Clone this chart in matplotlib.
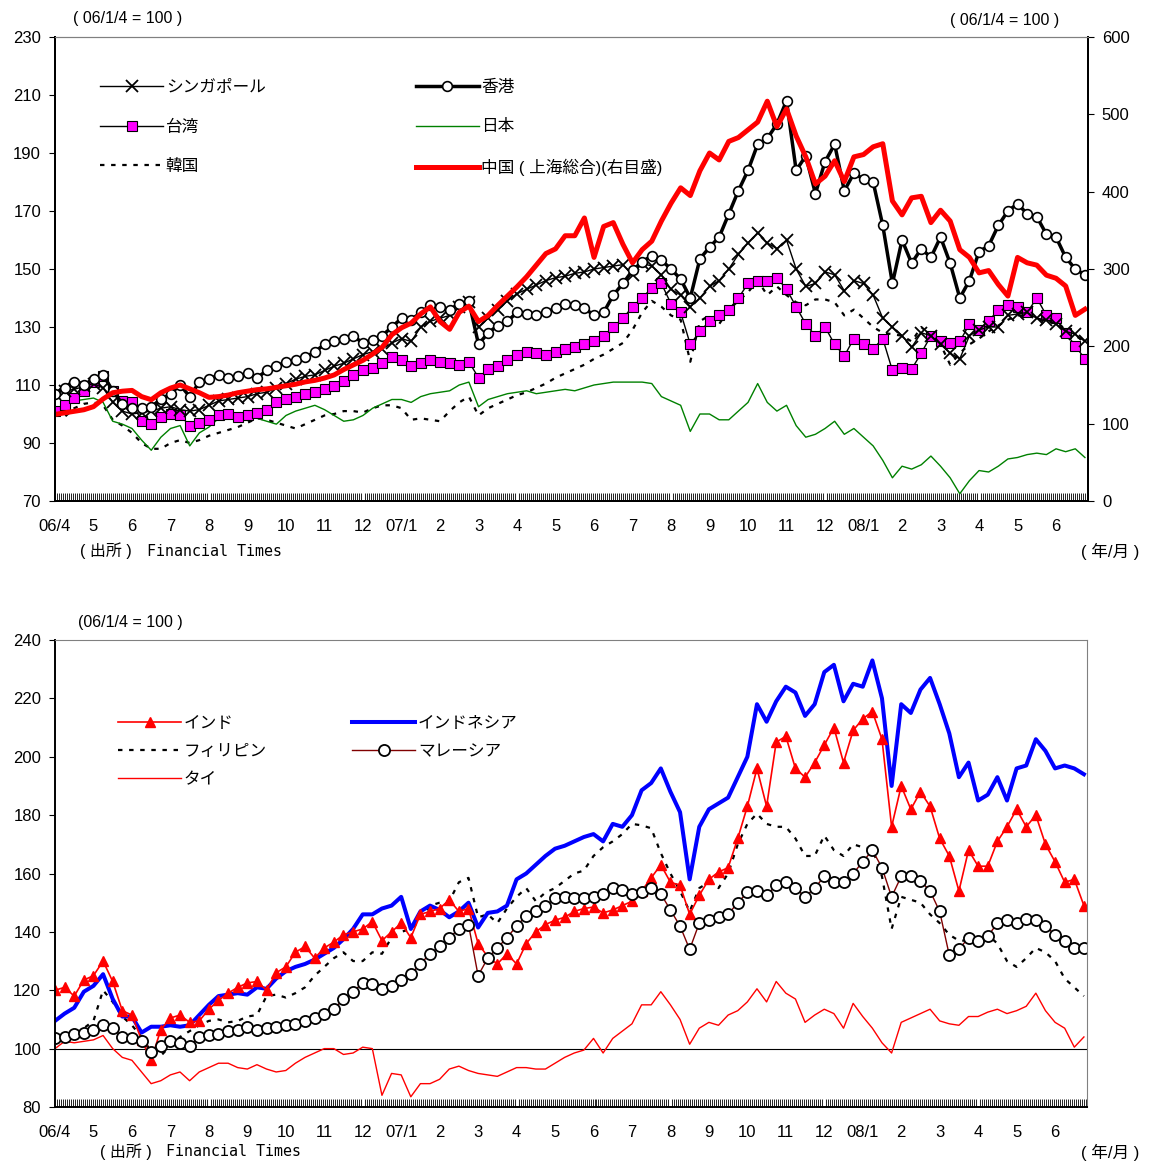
import numpy as np
import matplotlib.pyplot as plt

plt.rcParams['font.family'] = ['Liberation Sans', 'Noto Sans CJK JP']

month_labels = ['06/4', '5', '6', '7', '8', '9', '10', '11', '12', '07/1', '2', '3',
                '4', '5', '6', '7', '8', '9', '10', '11', '12', '08/1', '2', '3',
                '4', '5', '6']

# weekly readings (06/1/4 = 100), Apr 2006 - Jun 2008
singapore = [107, 108, 108.5, 109.5, 110.5, 109, 104, 101, 100, 100.5, 101, 102,
             102.5, 101.5, 101, 101.5, 103, 104.5, 105, 105.5, 106, 107, 107.5, 109,
             110.5, 112, 113, 113.5, 115, 116.5, 117.5, 119, 120.5, 121.5, 122.5, 124.5,
             126, 125, 130, 132, 133, 134, 137, 138.5, 130, 133, 136, 139,
             141.5, 143, 144.5, 146, 147, 147.5, 148.5, 149, 150, 150.5, 151, 151.5,
             148, 152, 151, 148, 143, 141, 137, 140, 144, 146, 150, 155,
             159, 162.5, 159, 157, 160, 150, 144, 145, 149, 148, 142.5, 146,
             145, 141, 133, 130, 127, 123, 128, 127, 124, 121, 119, 127,
             129, 130, 130, 134, 134.5, 135, 133, 132.5, 131, 128.5, 127.5, 125]
hongkong = [107, 109, 111, 110, 112, 113.5, 108, 103.5, 102, 102, 102.5, 105,
            107, 110, 106, 111, 112, 113.5, 112.5, 113, 114, 112.5, 115, 116.5,
            118, 118.5, 119.5, 121.5, 124, 125, 126, 126.8, 124.5, 125.5, 127, 130,
            133, 132.5, 135, 137.5, 137, 136, 138, 138.8, 124, 128, 130.5, 132,
            135, 134.5, 134, 135, 136.5, 138, 137.5, 136.5, 134, 135, 141, 145,
            149.5, 152.5, 154.5, 153, 150, 146.5, 140, 153.5, 157.5, 161, 169, 177,
            184, 193, 195, 200, 208, 184, 189, 176, 187, 193, 177, 183,
            181, 180, 165, 145, 160, 152, 157, 154, 161, 152, 140, 146,
            156, 158, 165, 170, 172.5, 169, 168, 162, 161, 154, 150, 148]
taiwan = [101, 103, 105.5, 108, 111, 113, 108, 104.5, 104, 97.5, 96.5, 99,
          100, 99.5, 96, 97, 98, 99.5, 100, 99, 99.5, 100.5, 101.5, 104,
          105, 106, 107, 107.5, 108.5, 109.5, 111.5, 113.5, 115, 116, 117.5, 119.5,
          118.5, 116.5, 117.5, 118.5, 118, 117.5, 117, 118, 112.5, 115.5, 116.5, 118.5,
          120.5, 121.5, 121, 120.5, 121.5, 122.5, 123, 124, 125, 127, 130, 133,
          137, 140, 143.5, 145, 138, 135, 124, 128.5, 132, 134, 136, 140,
          145, 146, 146, 147, 143, 137, 131, 127, 130, 124, 120, 126,
          124, 122.5, 126, 115, 116, 115.5, 121, 127, 125, 124.5, 125, 131,
          129, 132, 136, 137.5, 137, 135, 140, 134, 133, 128, 123.5, 119]
japan = [101, 103.5, 104.5, 105, 105.5, 104, 97.5, 96.5, 95, 91, 87.5, 92,
         95, 96, 89, 93.5, 95.5, 98.5, 100, 98.5, 99, 98.5, 97.5, 96.5,
         99.5, 101, 102, 103, 101.5, 99.5, 97.5, 98, 99.5, 102, 103.5, 105,
         105, 104, 106, 107, 107.5, 108, 110, 111, 102.5, 105, 106, 107,
         107.5, 108, 107, 107.5, 108, 108.5, 108, 109, 110, 110.5, 111, 111,
         111, 111, 110.5, 106, 104.5, 103, 94, 100, 100, 98, 98, 101,
         104, 110.5, 104, 101, 103, 96, 92, 93, 95, 97.5, 93, 95,
         92, 89, 84, 78, 82, 81, 82.5, 85.5, 82, 78, 72.5, 77,
         80.5, 80, 82, 84.5, 85, 86, 86.5, 86, 88, 87, 88, 85]
korea = [100, 99, 102, 103.5, 104, 103, 98, 96, 93.5, 90, 88, 88,
         90, 91, 90, 91, 92.5, 93.5, 94.5, 95.5, 97, 98.5, 98, 97,
         96, 95, 96.5, 98, 99.5, 100, 101, 101, 100.5, 102, 103, 103,
         102, 98, 98.5, 98, 97.5, 101, 104, 106, 99.5, 102, 103.5, 105,
         106.5, 107.5, 109, 110.5, 112.5, 114, 115.5, 117, 119, 120.5, 122.5, 124.5,
         129, 135, 139, 137, 134, 132.5, 118, 132, 134, 131, 136, 139,
         142, 146, 141, 144, 141, 138.5, 137.5, 139.5, 139.5, 138.5, 134, 136,
         133, 130, 128, 127.5, 127, 125, 130, 127, 124, 117, 121, 124,
         126, 128.5, 130.5, 132.5, 134, 134, 133, 131.5, 132, 129, 127, 125]
china = [112, 114, 116, 118, 122, 132, 140, 142, 143, 135, 131, 140,
         146, 150, 145, 140, 134, 135, 137, 140, 142, 144, 145, 147,
         149, 151, 154, 156, 159, 163, 170, 176, 182, 190, 199, 215,
         224, 230, 242, 251, 232, 222, 244, 252, 232, 240, 253, 265,
         277, 290, 305, 320, 326, 343, 343, 366, 315, 355, 360, 332,
         308, 325, 336, 362, 385, 405, 395, 427, 450, 441, 465, 470,
         480, 490, 517, 484, 507, 472, 445, 410, 420, 440, 413, 445,
         448, 458, 462, 388, 370, 392, 394, 360, 376, 362, 325, 315,
         295, 298, 280, 265, 315, 308, 305, 292, 288, 278, 240, 248]

india = [120, 121, 118, 123.5, 125, 130, 123, 113, 111.5, 103, 96, 106.5,
         110.5, 111.5, 109, 109.5, 113.5, 116.5, 119, 121, 122.5, 123, 120, 126,
         128, 133, 135, 131, 134.5, 136.5, 139, 140, 141, 143.5, 137, 140,
         143, 138, 146, 147, 148, 151, 147, 148, 136, 131.5, 129, 132.5,
         129, 136, 140, 142.5, 144, 145, 147, 148, 148.5, 146.5, 147.5, 149,
         150.5, 154, 158.5, 163, 157, 156, 146, 152.5, 158, 160.5, 162, 172,
         183, 196, 183, 205, 207, 196, 193, 198, 204, 210, 198, 209,
         213, 215.5, 206, 176, 190, 182, 188, 183, 172, 166, 154, 168,
         162.5, 162.5, 171, 176, 182, 176, 180, 170, 164, 157, 158, 149]
indonesia = [109.5, 112, 114, 119.5, 121.5, 125.5, 117, 111, 111, 105.5, 107.5, 107.5,
             108, 107.5, 108, 111.5, 115, 118, 118.5, 119, 118.5, 121, 120.5, 124,
             126.5, 128, 129, 130.5, 132.5, 134.5, 137.5, 141, 146, 146, 148, 149,
             152, 141, 147, 149, 147.5, 145, 147, 150, 141.5, 146.5, 147, 149,
             158, 160, 163, 166, 168.5, 169.5, 171, 172.5, 173.5, 171, 177, 176,
             180, 188.5, 191, 196, 188, 181, 158, 176, 182, 184, 186, 193,
             200, 218, 212, 219, 224, 222, 214, 218, 229, 231.5, 219, 225,
             224, 233, 220, 190, 218, 215, 223, 227, 218, 208, 193, 198,
             185, 187, 193, 185, 196, 197, 206, 202, 196, 197, 196, 194]
philippines = [103, 103.5, 105, 107, 109.5, 120, 116, 111, 108, 104, 99, 97.5,
               101, 104, 106, 108, 109.5, 110, 109, 109.5, 111, 111.5, 118, 118.5,
               117.5, 119, 121, 125, 128, 131, 133, 130, 130, 133, 132.5, 138,
               140, 141, 144, 149, 150, 150.5, 157, 158.5, 145, 146, 143, 148,
               152, 155, 150.5, 153.5, 155, 157.5, 160, 161, 166, 169, 171, 173.5,
               177, 176.5, 175.5, 167, 160, 154, 147, 155, 157, 155, 160, 170,
               177, 180.5, 177, 176, 176, 172, 166, 166, 173, 168, 166, 170,
               169, 168.5, 159, 141, 152, 151, 150, 146, 143, 139, 137, 137,
               138, 139, 136, 130, 128, 131, 134.5, 133, 130, 124, 121, 118]
malaysia = [103.5, 104, 105, 105.5, 106.5, 108, 107, 104, 103.5, 102.5, 99, 101,
            102.5, 102, 101, 104, 104.5, 105, 106, 106.5, 107.5, 106.5, 107, 107.5,
            108, 108.5, 109.5, 110.5, 112, 113.5, 117, 119.5, 122.5, 122, 120.5, 121.5,
            123.5, 125.5, 129, 132.5, 135, 138, 141, 142.5, 125, 131, 134.5, 138,
            142, 145.5, 147, 149, 151.5, 152, 151.5, 151.5, 152, 153, 155, 154.5,
            153, 153.5, 155, 153, 147.5, 142, 134, 143, 144, 145, 146, 150,
            153.5, 154, 152.5, 156, 157, 155, 152, 155, 159, 157, 157, 160,
            164, 168, 162, 152, 159, 159, 157.5, 154, 147, 132, 134, 138,
            137, 138.5, 143, 144, 143, 144.5, 144, 142, 139, 137, 134.5, 134.5]
thailand = [100, 102.5, 102, 102.5, 103, 104.5, 100, 97, 96, 92, 88, 89,
            91, 92, 89, 92, 93.5, 95, 95, 93.5, 93, 94.5, 93, 92,
            92.5, 95, 97, 98.5, 100, 100, 98, 98.5, 100.5, 100, 84, 91.5,
            91, 83.5, 88, 88, 89.5, 93, 94, 92.5, 91.5, 91, 90.5, 92,
            93.5, 93.5, 93, 93, 95, 97, 98.5, 99.5, 103.5, 98.5, 103.5, 106,
            108.5, 115, 115, 119.5, 115, 110, 101.5, 107, 109, 108, 111.5, 113,
            116, 120.5, 116, 123, 119, 117, 109, 111.5, 113.5, 112, 107, 115.5,
            111, 107, 102, 98.5, 109, 110.5, 112, 113.5, 109.5, 108.5, 108, 111,
            111, 112.5, 113.5, 112, 113, 114.5, 119, 113, 109, 107, 100.5, 104]

W, H = 1152, 1162
fig = plt.figure(figsize=(W / 100, H / 100), dpi=100)


def box(x0, y0, x1, y1):
    return [x0 / W, 1 - y1 / H, (x1 - x0) / W, (y1 - y0) / H]


x = np.arange(len(china)) * 0.25  # months since 2006/4
fs = 12


def style_x(ax):
    ax.set_xlim(0, 26.83)
    ax.set_xticks(range(len(month_labels)))
    ax.set_xticklabels(month_labels)
    # one small tick per trading day, about 2 px apart
    ax.set_xticks(np.arange(0, 26.83, 2 / 38.5), minor=True)
    ax.tick_params(axis='x', which='major', length=0, pad=13, labelsize=fs)
    ax.tick_params(axis='x', which='minor', direction='in', length=6, width=0.6)


# ---- top panel ----
ax1 = fig.add_axes(box(55, 37, 1088, 501))
l_kr, = ax1.plot(x, korea, color='black', lw=1.6, ls=(0, (2, 3)), label='韓国')
l_jp, = ax1.plot(x, japan, color='#008000', lw=1.0, label='日本')
l_tw, = ax1.plot(x, taiwan, color='black', lw=1.0, marker='s', ms=7,
                 mfc='#FF00FF', mec='black', mew=0.8, label='台湾')
l_sg, = ax1.plot(x, singapore, color='black', lw=1.0, marker='x', ms=8,
                 mew=1.3, label='シンガポール')
l_hk, = ax1.plot(x, hongkong, color='black', lw=2.5, marker='o', ms=7,
                 mfc='white', mec='black', mew=1.2, label='香港')
ax1.set_ylim(70, 230)
ax1.set_yticks(range(70, 231, 20))
ax1.tick_params(axis='y', direction='out', length=4, pad=6, labelsize=fs)
style_x(ax1)

ax1r = ax1.twinx()
l_cn, = ax1r.plot(x, china, color='#FF0000', lw=3.6, label='中国 ( 上海総合)(右目盛)')
ax1r.set_ylim(0, 600)
ax1r.set_yticks(range(0, 601, 100))
ax1r.tick_params(axis='y', direction='out', length=4, pad=6, labelsize=fs)
for a in (ax1, ax1r):
    a.spines['top'].set_color('#808080')
    for s in ('left', 'bottom', 'right'):
        a.spines[s].set_color('black')
        a.spines[s].set_linewidth(1.4)

ax1r.legend(handles=[l_sg, l_tw, l_kr, l_hk, l_jp, l_cn], ncol=2, frameon=False,
            loc='upper left', bbox_to_anchor=(100 / W, 1 - 80 / H),
            bbox_transform=fig.transFigure, borderpad=0, borderaxespad=0,
            fontsize=fs, handlelength=3.8, handletextpad=0.15,
            labelspacing=1.45, columnspacing=9.0, numpoints=1)

# ---- bottom panel ----
ax2 = fig.add_axes(box(55, 640, 1087, 1107))
ax2.axhline(100, color='black', lw=0.8)
l_th, = ax2.plot(x, thailand, color='#FF0000', lw=1.0, label='タイ')
l_ph, = ax2.plot(x, philippines, color='black', lw=1.6, ls=(0, (2, 3)), label='フィリピン')
l_id, = ax2.plot(x, indonesia, color='#0000FF', lw=2.9, label='インドネシア')
l_in, = ax2.plot(x, india, color='#FF0000', lw=1.2, marker='^', ms=7,
                 mfc='#FF0000', mec='#FF0000', label='インド')
l_my, = ax2.plot(x, malaysia, color='#800000', lw=1.0, marker='o', ms=8,
                 mfc='white', mec='black', mew=1.3, label='マレーシア')
ax2.set_ylim(80, 240)
ax2.set_yticks(range(80, 241, 20))
ax2.tick_params(axis='y', direction='out', length=4, pad=6, labelsize=fs)
style_x(ax2)
for s in ('top', 'right'):
    ax2.spines[s].set_color('#808080')
for s in ('left', 'bottom'):
    ax2.spines[s].set_linewidth(1.4)

ax2.legend(handles=[l_in, l_ph, l_th, l_id, l_my], ncol=2, frameon=False,
           loc='upper left', bbox_to_anchor=(118 / W, 1 - 716 / H),
           bbox_transform=fig.transFigure, borderpad=0, borderaxespad=0,
           fontsize=fs, handlelength=3.8, handletextpad=0.15,
           labelspacing=0.78, columnspacing=5.1, numpoints=1)

# ---- notes ----
mono = ['DejaVu Sans Mono', 'Noto Sans CJK JP']
fig.text(128 / W, 1 - 18 / H, '( 06/1/4 = 100 )', ha='center', va='center', fontsize=11.5)
fig.text(1005 / W, 1 - 20 / H, '( 06/1/4 = 100 )', ha='center', va='center', fontsize=11.5)
fig.text(80 / W, 1 - 551 / H, '( 出所 )', ha='left', va='center', fontsize=11.5)
fig.text(147 / W, 1 - 551 / H, 'Financial Times', ha='left', va='center',
         fontsize=10.8, family=mono)
fig.text(1110 / W, 1 - 551 / H, '( 年/月 )', ha='center', va='center', fontsize=12)
fig.text(130 / W, 1 - 622 / H, '(06/1/4 = 100 )', ha='center', va='center', fontsize=11.5)
fig.text(100 / W, 1 - 1152 / H, '( 出所 )', ha='left', va='center', fontsize=11.5)
fig.text(166 / W, 1 - 1152 / H, 'Financial Times', ha='left', va='center',
         fontsize=10.8, family=mono)
fig.text(1110 / W, 1 - 1152 / H, '( 年/月 )', ha='center', va='center', fontsize=12)

fig.savefig('out.png', dpi=100)
